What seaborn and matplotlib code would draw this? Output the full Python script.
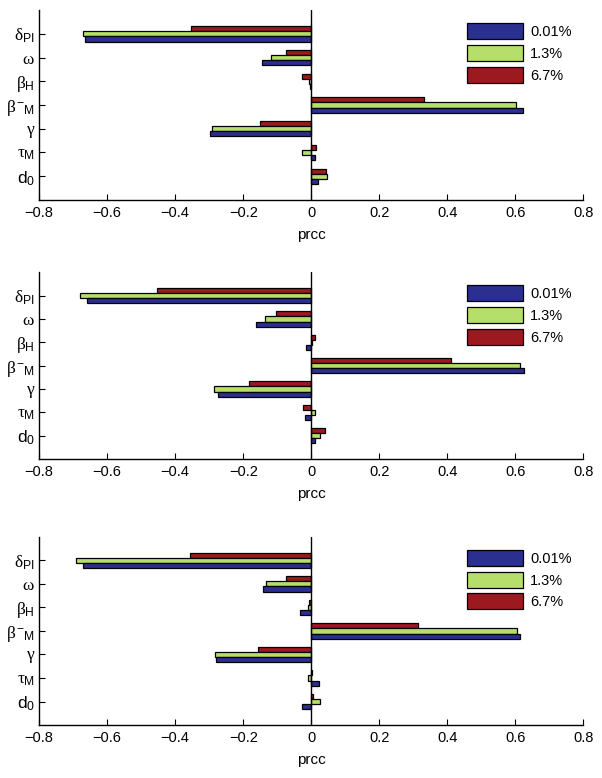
import matplotlib
matplotlib.use("Agg")
import matplotlib.pyplot as plt
import numpy as np
import pandas as pd
import seaborn as sns

# parameters, top to bottom
params = [r"$\delta_{\rm PI}$", r"$\omega$", r"$\beta_{\rm H}$", r"$\beta^{-}{}_{\rm M}$",
          r"$\gamma$", r"$\tau_{\rm M}$", r"$\rm d_0$"]
levels = ["0.01%", "1.3%", "6.7%"]
colors = {"0.01%": "#2b2f8f", "1.3%": "#b5df6a", "6.7%": "#9c1a1f"}

# prcc values per panel, one list per level
top_001 = [-0.665, -0.145, -0.004, 0.622, -0.297, 0.012, 0.020]
top_13 = [-0.670, -0.118, -0.008, 0.603, -0.291, -0.026, 0.046]
top_67 = [-0.354, -0.074, -0.026, 0.332, -0.152, 0.013, 0.044]

mid_001 = [-0.660, -0.162, -0.015, 0.625, -0.273, -0.017, 0.012]
mid_13 = [-0.679, -0.135, 0.002, 0.615, -0.287, 0.012, 0.026]
mid_67 = [-0.454, -0.103, 0.010, 0.412, -0.184, -0.025, 0.041]

bot_001 = [-0.672, -0.143, -0.032, 0.613, -0.279, 0.024, -0.027]
bot_13 = [-0.691, -0.132, -0.009, 0.606, -0.282, -0.010, 0.026]
bot_67 = [-0.356, -0.074, -0.008, 0.313, -0.157, 0.002, 0.005]

panels = [(top_001, top_13, top_67), (mid_001, mid_13, mid_67), (bot_001, bot_13, bot_67)]
xticks = [-0.8, -0.6, -0.4, -0.2, 0, 0.2, 0.4, 0.6, 0.8]


def make_frame(vals):
    rows = []
    for lev, series in zip(levels, vals):
        for p, v in zip(params, series):
            rows.append({"param": p, "level": lev, "prcc": v})
    return pd.DataFrame(rows)


def draw_panel(ax, df):
    # red drawn on top of each group, blue at the bottom
    order = levels[::-1]
    sns.barplot(data=df, x="prcc", y="param", hue="level", hue_order=order, order=params,
                palette=colors, saturation=1, orient="h", width=0.65, edgecolor="black",
                linewidth=0.9, legend=False, ax=ax)
    ax.axvline(0, color="black", lw=1.0, zorder=5)
    ax.set_xlim(-0.8, 0.8)
    ax.set_ylim(7, -1)
    ax.set_xticks(xticks)
    ax.set_xticklabels(["\u22120.8", "\u22120.6", "\u22120.4", "\u22120.2", "0",
                        "0.2", "0.4", "0.6", "0.8"])
    ax.set_xlabel("prcc", fontsize=11, labelpad=6)
    ax.set_ylabel("")
    ax.tick_params(axis="x", direction="in", length=4, width=0.8, labelsize=10.5, pad=4,
                   bottom=True)
    ax.tick_params(axis="y", direction="in", length=4, width=0.8, labelsize=12.5, pad=3,
                   left=True)
    for side in ["top", "right"]:
        ax.spines[side].set_visible(False)
    for side in ["left", "bottom"]:
        ax.spines[side].set_linewidth(1.0)
        ax.spines[side].set_color("black")
    handles = ax.containers[::-1]
    ax.legend(handles, levels, loc="upper left", bbox_to_anchor=(0.787, 0.93),
              frameon=False, fontsize=10.5, handlelength=3.8, handleheight=1.3,
              handletextpad=0.5, labelspacing=0.4, borderpad=0, borderaxespad=0)


sns.set_style("ticks")
plt.rcParams["font.family"] = ["Liberation Sans", "DejaVu Sans"]
plt.rcParams["mathtext.fontset"] = "custom"
plt.rcParams["mathtext.rm"] = "Liberation Sans"
plt.rcParams["mathtext.it"] = "Liberation Serif"
plt.rcParams["text.color"] = "black"
plt.rcParams["axes.labelcolor"] = "black"
plt.rcParams["xtick.color"] = "black"
plt.rcParams["ytick.color"] = "black"

fig = plt.figure(figsize=(6.02, 7.78), dpi=100)
boxes = [(0.065, 0.743, 0.904, 0.244), (0.065, 0.410, 0.904, 0.240), (0.065, 0.068, 0.904, 0.242)]
for box, vals in zip(boxes, panels):
    ax = fig.add_axes(box)
    draw_panel(ax, make_frame(vals))

fig.savefig("out.png", dpi=100)
